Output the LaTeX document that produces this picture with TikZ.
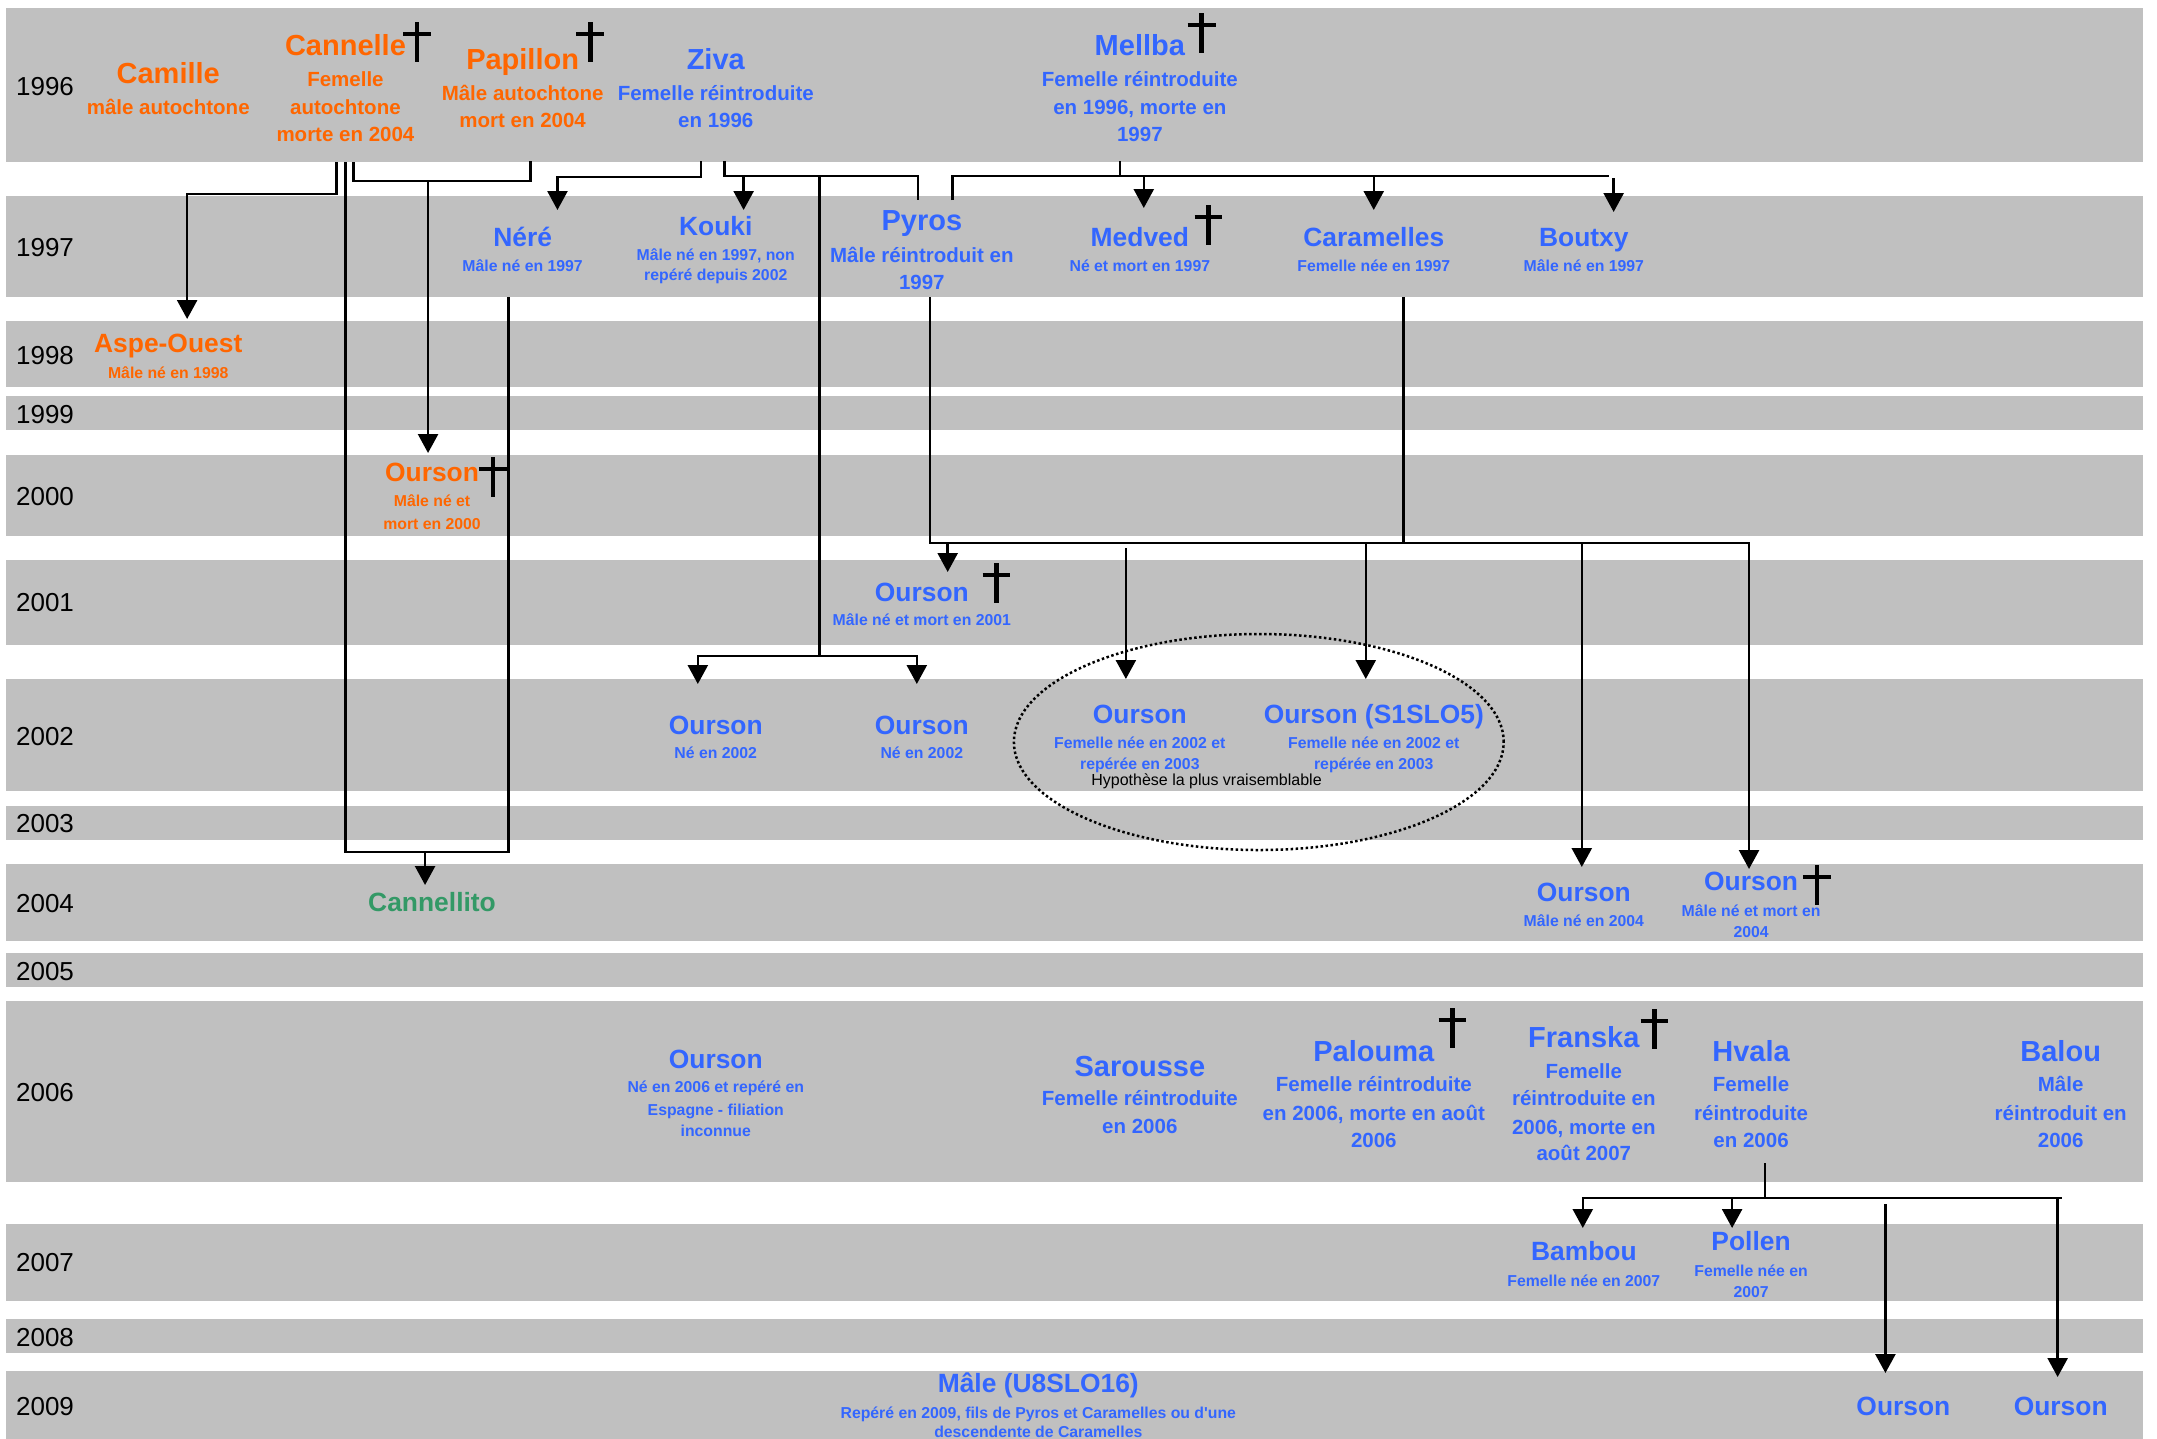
\documentclass[tikz,border=0pt]{standalone}
\usepackage{fontspec}
\setmainfont{Liberation Sans}[Ligatures=TeXOff]
\usetikzlibrary{arrows.meta}
\definecolor{orng}{RGB}{255,102,0}
\definecolor{blu}{RGB}{51,102,255}
\definecolor{grn}{RGB}{51,153,102}
\definecolor{bandgray}{RGB}{192,192,192}
\tikzset{
  band/.style={fill=bandgray, draw=none},
  yr/.style={font=\fontsize{26}{30}\selectfont, anchor=base west, inner sep=0pt, text=black},
  bigT/.style={font=\fontsize{29}{34}\selectfont\bfseries, anchor=base, inner sep=0pt},
  T/.style={font=\fontsize{26.4}{31}\selectfont\bfseries, anchor=base, inner sep=0pt},
  med/.style={font=\fontsize{20.5}{24}\selectfont\bfseries, anchor=base, inner sep=0pt},
  sml/.style={font=\fontsize{15.8}{19}\selectfont\bfseries, anchor=base, inner sep=0pt},
  hyp/.style={font=\fontsize{16}{19}\selectfont, anchor=base, inner sep=0pt, text=black},
  link/.style={line width=2.5pt, draw=black},
  arr/.style={-{Triangle[length=19pt,width=20pt]}},
  crossline/.style={line width=4.5pt, draw=black},
  hypell/.style={line width=2.5pt, draw=black, dash pattern=on 2.5pt off 2.5pt}
}
% #1 name, #2 colour, #3 x, #4 title baseline, #5 title style, #6 title, #7 sub style, #8 list y/line
\newcommand\bear[8]{%
  \node[#5, text=#2] (#1) at (#3,#4) {#6};
  \foreach \yy/\lnt [count=\i] in {#8} {\node[#7, text=#2] (#1-\i) at (#3,\yy) {\lnt};}
}
% cross: #1 x, #2 top y
\newcommand\dagg[2]{%
  \draw[crossline] (#1,#2) -- (#1,{#2+40});
  \draw[crossline] ({#1-14},{#2+12}) -- ({#1+14},{#2+12});
}
\begin{document}
\begin{tikzpicture}[x=1pt,y=-1pt]
\useasboundingbox (0,0) rectangle (2157,1438);
\begin{scope}[xscale=0.9955]
% bands
\foreach \t/\b in {8/162, 196/297, 321/387, 396/430, 455/536, 560/645, 679/791, 806/840, 864/941, 953/987, 1001/1182, 1224/1301, 1319/1353, 1371/1440}
  {\fill[band] (6,\t) rectangle (2153,\b);}
% years
\foreach \yv/\yl in {95.7/1996, 256/1997, 364/1998, 423/1999, 505/2000, 611.7/2001, 745/2002, 832.3/2003, 912.7/2004, 980/2005, 1101.7/2006, 1271.7/2007, 1346/2008, 1415/2009}
  {\node[yr] (y\yl) at (16,\yv) {\yl};}

% ---------- connectors ----------
% Cannelle -> Aspe-Ouest
\coordinate (CanA) at (338,162);
\coordinate (CanA2) at (338,194);
\coordinate (AspeJ) at (188,194);
\coordinate (AspeT) at (188,319);
\draw[link,arr] (CanA) -- (CanA2) -- (AspeJ) -- (AspeT);
% Cannelle + Nere -> Cannellito
\coordinate (CanB) at (347,162);
\coordinate (CanB2) at (347,852);
\coordinate (NereB) at (511,297);
\coordinate (NereB2) at (511,852);
\draw[link] (CanB) -- (CanB2) -- (NereB2) -- (NereB);
\coordinate (CtoJ) at (427,852);
\coordinate (CtoT) at (427,885);
\draw[link,arr] (CtoJ) -- (CtoT);
% Cannelle + Papillon -> Ourson 2000
\coordinate (CanC) at (355,162);
\coordinate (CanC2) at (355,181);
\coordinate (PapB2) at (533,181);
\coordinate (PapB) at (533,161);
\draw[link] (CanC) -- (CanC2) -- (PapB2) -- (PapB);
\coordinate (O0J) at (430,181);
\coordinate (O0T) at (430,453);
\draw[link,arr] (O0J) -- (O0T);
% Ziva -> Nere
\coordinate (ZivA) at (704,161);
\coordinate (ZivA2) at (704,177);
\coordinate (NereJ) at (560,177);
\coordinate (NereT) at (560,210);
\draw[link,arr] (ZivA) -- (ZivA2) -- (NereJ) -- (NereT);
% Ziva + Pyros
\coordinate (ZivB) at (728,161);
\coordinate (ZivB2) at (728,176);
\coordinate (PyrA2) at (922,176);
\coordinate (PyrA) at (922,200);
\draw[link] (ZivB) -- (ZivB2) -- (PyrA2) -- (PyrA);
\coordinate (KouJ) at (747,176);
\coordinate (KouT) at (747,210);
\draw[link,arr] (KouJ) -- (KouT);
\coordinate (ZPJ) at (823,176);
\coordinate (ZPJ2) at (823,656);
\coordinate (O2aT) at (701,684);
\coordinate (O2bT) at (921,684);
\draw[link] (ZPJ) -- (ZPJ2);
\draw[link,arr] (ZPJ2) -| (O2aT);
\draw[link,arr] (ZPJ2) -| (O2bT);
% Mellba + Pyros
\coordinate (PyrB) at (957,200);
\coordinate (PyrB2) at (957,176);
\coordinate (MPend) at (1616,176);
\draw[link] (PyrB) -- (PyrB2) -- (MPend);
\coordinate (MelB) at (1125,161);
\coordinate (MelB2) at (1125,176);
\draw[link] (MelB) -- (MelB2);
\coordinate (MedJ) at (1149,176);
\coordinate (MedT) at (1149,208);
\draw[link,arr] (MedJ) -- (MedT);
\coordinate (CarJ) at (1380,176);
\coordinate (CarT) at (1380,210);
\draw[link,arr] (CarJ) -- (CarT);
\coordinate (BouJ) at (1621,178);
\coordinate (BouT) at (1621,212);
\draw[link,arr] (BouJ) -- (BouT);
% Pyros + Caramelles
\coordinate (PyrC) at (934,297);
\coordinate (PyrC2) at (934,543);
\coordinate (PCend) at (1757,543);
\coordinate (O4bT) at (1757,869);
\draw[link,arr] (PyrC) -- (PyrC2) -- (PCend) -- (O4bT);
\coordinate (CarB) at (1410,297);
\coordinate (CarB2) at (1410,543);
\draw[link] (CarB) -- (CarB2);
\coordinate (O1J) at (952,543);
\coordinate (O1T) at (952,572);
\draw[link,arr] (O1J) -- (O1T);
\coordinate (O2cJ) at (1131,548);
\coordinate (O2cT) at (1131,679);
\draw[link,arr] (O2cJ) -- (O2cT);
\coordinate (S1J) at (1372,543);
\coordinate (S1T) at (1372,679);
\draw[link,arr] (S1J) -- (S1T);
\coordinate (O4aJ) at (1589,543);
\coordinate (O4aT) at (1589,867);
\draw[link,arr] (O4aJ) -- (O4aT);
% Hvala
\coordinate (HvaB) at (1773,1163);
\coordinate (HvaB2) at (1773,1198);
\draw[link] (HvaB) -- (HvaB2);
\coordinate (HvL) at (1589,1198);
\coordinate (HvR) at (2071,1198);
\draw[link] (HvL) -- (HvR);
\coordinate (BamJ) at (1590,1198);
\coordinate (BamT) at (1590,1228);
\draw[link,arr] (BamJ) -- (BamT);
\coordinate (PolJ) at (1740,1198);
\coordinate (PolT) at (1740,1228);
\draw[link,arr] (PolJ) -- (PolT);
\coordinate (O9aJ) at (1894,1204);
\coordinate (O9aT) at (1894,1373);
\draw[link,arr] (O9aJ) -- (O9aT);
\coordinate (O9bJ) at (2067,1198);
\coordinate (O9bT) at (2067,1377);
\draw[link,arr] (O9bJ) -- (O9bT);

% hypothesis ellipse
\draw[hypell] (1264.5,742) ellipse [x radius=246pt, y radius=108pt];

% ---------- bears ----------
\bear{camille}{orng}{169}{83.3}{bigT}{Camille}{med}{114/mâle autochtone}
\bear{cannelle}{orng}{347}{55}{bigT}{Cannelle}{med}{86/Femelle, 114/autochtone, 141/morte en 2004}
\bear{papillon}{orng}{525}{69}{bigT}{Papillon}{med}{100/Mâle autochtone, 127.3/mort en 2004}
\bear{ziva}{blu}{719}{69}{bigT}{Ziva}{med}{100/Femelle réintroduite, 127.3/en 1996}
\bear{mellba}{blu}{1145}{55}{bigT}{Mellba}{med}{86/Femelle réintroduite, 114/{en 1996, morte en}, 141/1997}
\bear{nere}{blu}{525}{246}{T}{Néré}{sml}{271.7/Mâle né en 1997}
\bear{kouki}{blu}{719}{235}{T}{Kouki}{sml}{260/{Mâle né en 1997, non}, 280.5/repéré depuis 2002}
\bear{pyros}{blu}{926}{230}{bigT}{Pyros}{med}{262.3/Mâle réintroduit en, 289.3/1997}
\bear{medved}{blu}{1145}{246}{T}{Medved}{sml}{271.7/Né et mort en 1997}
\bear{caramelles}{blu}{1380}{246}{T}{Caramelles}{sml}{271.7/Femelle née en 1997}
\bear{boutxy}{blu}{1591}{246}{T}{Boutxy}{sml}{271.7/Mâle né en 1997}
\bear{aspe}{orng}{169}{352.7}{T}{Aspe-Ouest}{sml}{378/Mâle né en 1998}
\bear{oa}{orng}{434}{481.7}{T}{Ourson}{sml}{506.7/Mâle né et, 529/mort en 2000}
\bear{ob}{blu}{926}{601.7}{T}{Ourson}{sml}{625.7/Mâle né et mort en 2001}
\bear{oc}{blu}{719}{734}{T}{Ourson}{sml}{758.5/Né en 2002}
\bear{od}{blu}{926}{734}{T}{Ourson}{sml}{758.5/Né en 2002}
\bear{oe}{blu}{1145}{723.3}{T}{Ourson}{sml}{748.3/Femelle née en 2002 et, 769.5/repérée en 2003}
\bear{s1slo5}{blu}{1380}{723.3}{T}{Ourson (S1SLO5)}{sml}{748.3/Femelle née en 2002 et, 769.5/repérée en 2003}
\node[hyp] (hypo) at (1212,785) {Hypothèse la plus vraisemblable};
\node[T,text=grn] (cannellito) at (434,911) {Cannellito};
\bear{of}{blu}{1591}{901.7}{T}{Ourson}{sml}{926.7/Mâle né en 2004}
\bear{og}{blu}{1759}{890.7}{T}{Ourson}{sml}{916/Mâle né et mort en, 937.3/2004}
\bear{oh}{blu}{719}{1068.3}{T}{Ourson}{sml}{1092.7/Né en 2006 et repéré en, 1115/Espagne - filiation, 1136.7/inconnue}
\bear{sarousse}{blu}{1145}{1076}{bigT}{Sarousse}{med}{1105.7/Femelle réintroduite, 1133.3/en 2006}
\bear{palouma}{blu}{1380}{1061.7}{bigT}{Palouma}{med}{1091.7/Femelle réintroduite, 1120/{en 2006, morte en août}, 1147.3/2006}
\bear{franska}{blu}{1591}{1047.3}{bigT}{Franska}{med}{1078.3/Femelle, 1105.7/réintroduite en, 1134/{2006, morte en}, 1160.7/août 2007}
\bear{hvala}{blu}{1759}{1061.7}{bigT}{Hvala}{med}{1091.7/Femelle, 1120/réintroduite, 1147.3/en 2006}
\bear{balou}{blu}{2070}{1061.7}{bigT}{Balou}{med}{1091.7/Mâle, 1120/réintroduit en, 1147.3/2006}
\bear{bambou}{blu}{1591}{1260.7}{T}{Bambou}{sml}{1286.7/Femelle née en 2007}
\bear{pollen}{blu}{1759}{1250.7}{T}{Pollen}{sml}{1276.7/Femelle née en, 1297.3/2007}
\bear{ueight}{blu}{1043}{1392.7}{T}{Mâle (U8SLO16)}{sml}{1418.3/{Repéré en 2009, fils de Pyros et Caramelles ou d'une}, 1437.5/descendente de Caramelles}
\node[T,text=blu] (oi) at (1912,1415) {Ourson};
\node[T,text=blu] (oj) at (2070,1415) {Ourson};

% ---------- crosses ----------
\dagg{419}{22}
\dagg{593}{22}
\dagg{1207}{13}
\dagg{1214}{205}
\dagg{495}{457}
\dagg{1001}{563}
\dagg{1825}{865}
\dagg{1459}{1008}
\dagg{1662}{1009}
\end{scope}
\end{tikzpicture}
\end{document}
